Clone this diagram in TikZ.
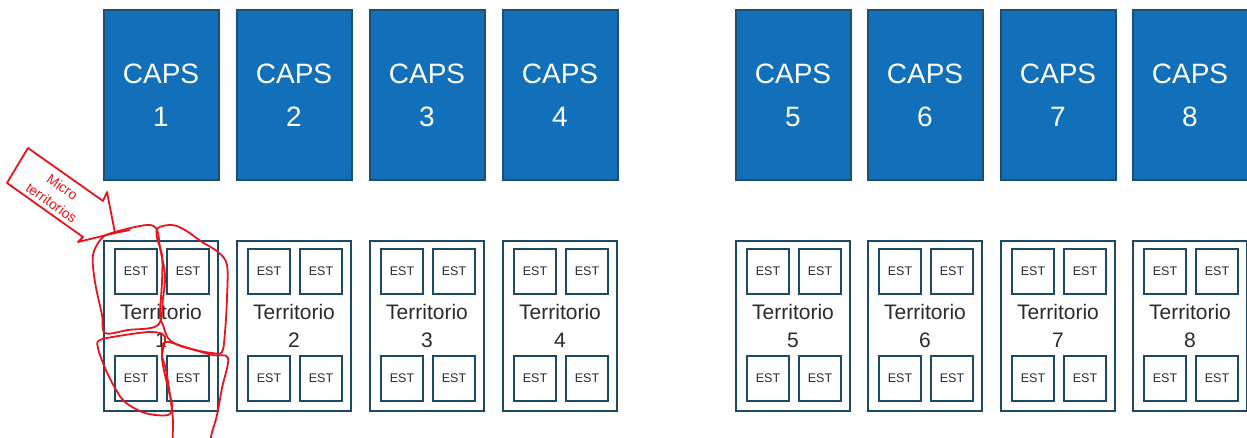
\documentclass[tikz,border=0pt]{standalone}
\usepackage{fontspec}
\setmainfont{Liberation Sans}
\definecolor{capsfill}{HTML}{1170B9}
\definecolor{capsdraw}{HTML}{1E4E72}
\definecolor{terr}{HTML}{1B4A66}
\definecolor{txt}{HTML}{2B2B2B}
\definecolor{annot}{HTML}{E8141B}
\begin{document}
\begin{tikzpicture}[x=1pt,y=-1pt,
  capsbox/.style={draw=capsdraw, line width=2pt, fill=capsfill, minimum width=115pt, minimum height=170pt, inner sep=0pt, text=white, align=center, font=\fontsize{28}{43}\selectfont},
  terrbox/.style={draw=terr, line width=2.4pt, minimum width=114pt, minimum height=170pt, inner sep=0pt, align=center, text=txt, font=\fontsize{21}{28}\selectfont},
  estbox/.style={draw=terr, line width=2.4pt, minimum width=42pt, minimum height=45pt, inner sep=0pt, font=\fontsize{12.5}{14}\selectfont, text=txt},
  redline/.style={draw=annot, line width=1.8pt, line join=round},
  redtext/.style={text=annot, align=center, font=\fontsize{14}{19}\selectfont, inner sep=0pt}]
\useasboundingbox (0,0) rectangle (1247,438);
\foreach \i/\L in {1/103,2/236,3/369,4/502,5/735,6/867,7/1000,8/1132}{
  \node[capsbox] (caps\i) at (\L+58,95.5) {CAPS\\\i};
  \node[terrbox] (terr\i) at (\L+58,326) {Territorio\\\i};
  \node[estbox] (est\i a) at (\L+33,271.5) {EST};
  \node[estbox] (est\i b) at (\L+85,271.5) {EST};
  \node[estbox] (est\i c) at (\L+33,378.5) {EST};
  \node[estbox] (est\i d) at (\L+85,378.5) {EST};
}
% annotation arrow
\draw[redline] (28,148) -- (103,201) -- (107,192) -- (115,233) -- (78,242) -- (83,237) -- (7,183) -- cycle;
\node[redtext, rotate=-35] (micro) at (57,195) {Micro\\territorios};
\begin{scope}
\clip (0,0) rectangle (1247,438);
\draw[redline] plot[smooth cycle, tension=0.55] coordinates {(115,232) (147,225) (157,230) (160,248) (165,275) (163,298) (158,325) (128,330) (105,333) (102,315) (95,282) (93,255) (102,238)};
\draw[redline] plot[smooth cycle, tension=0.55] coordinates {(158,228) (172,225) (185,230) (202,242) (218,252) (227,265) (227,298) (225,332) (222,352) (212,353) (195,350) (178,345) (168,338) (163,325) (160,315) (162,282) (162,255) (157,238)};
\draw[redline] plot[smooth cycle, tension=0.55] coordinates {(100,340) (125,335) (152,332) (165,337) (162,358) (168,388) (172,405) (168,415) (145,413) (125,402) (115,388) (105,368) (98,348)};
\draw[redline] plot[smooth cycle, tension=0.55] coordinates {(165,342) (185,347) (212,355) (228,358) (222,388) (217,415) (212,432) (208,444) (190,446) (174,444) (173,420) (170,395) (166,370) (162,355)};
\draw[redline] (115,233) -- (130,230);
\end{scope}
\end{tikzpicture}
\end{document}
